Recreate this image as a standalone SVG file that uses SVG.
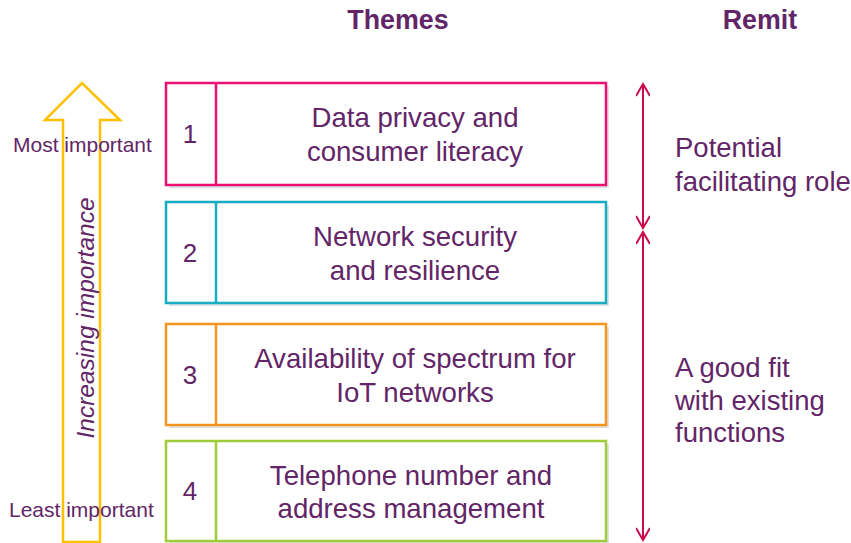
<svg xmlns="http://www.w3.org/2000/svg" width="851" height="543" viewBox="0 0 851 543">
<defs>
<marker id="chev" viewBox="0 0 16 14" refX="14" refY="7" markerWidth="16" markerHeight="14" markerUnits="userSpaceOnUse" orient="auto-start-reverse">
<path d="M2,0 L14,7 L2,14" fill="none" stroke="#cc0a4d" stroke-width="2"/>
</marker>
</defs>
<style>
text{font-family:"Liberation Sans",Arial,sans-serif;fill:#622567}
.hdr{font-size:26.8px;font-weight:bold;text-anchor:middle}
.box{fill:#fff;stroke-width:2.5}
.shadow{fill:#e2e2e2}
.num{font-size:26px;text-anchor:middle}
.lbl{font-size:27.6px;text-anchor:middle}
.side{font-size:21px}
.remit{font-size:27.5px}
.conn{stroke:#cc0a4d;stroke-width:2;fill:none}
</style>
<rect width="851" height="543" fill="#fff"/>
<text class="hdr" x="398" y="29">Themes</text>
<text class="hdr" x="760" y="29">Remit</text>

<g id="importance-arrow">
<polygon points="63,542 63,120 45,120 82,83 120,120 100,120 100,542" fill="#fff" stroke="#ffc000" stroke-width="2.5" stroke-linejoin="miter"/>
<text x="87" y="318" transform="rotate(-90 87 318)" font-size="24.5" font-style="italic" text-anchor="middle" dy="7">Increasing importance</text>
<text class="side" x="13" y="152">Most important</text>
<text class="side" x="9" y="517">Least important</text>
</g>

<g id="theme1">
<rect class="shadow" x="169" y="86" width="440" height="102"/>
<rect class="box" x="166" y="83" width="440" height="102" stroke="#ea0f72"/>
<line x1="216" y1="83" x2="216" y2="185" stroke="#ea0f72" stroke-width="2.5"/>
<text class="num" x="190" y="143">1</text>
<text class="lbl" x="415" y="127">Data privacy and</text>
<text class="lbl" x="415" y="161">consumer literacy</text>
</g>

<g id="theme2">
<rect class="shadow" x="169" y="205" width="440" height="101"/>
<rect class="box" x="166" y="202" width="440" height="101" stroke="#17adc1"/>
<line x1="216" y1="202" x2="216" y2="303" stroke="#17adc1" stroke-width="2.5"/>
<text class="num" x="190" y="262">2</text>
<text class="lbl" x="415" y="246">Network security</text>
<text class="lbl" x="415" y="280">and resilience</text>
</g>

<g id="theme3">
<rect class="shadow" x="169" y="327" width="440" height="101"/>
<rect class="box" x="166" y="324" width="440" height="101" stroke="#f7941d"/>
<line x1="216" y1="324" x2="216" y2="425" stroke="#f7941d" stroke-width="2.5"/>
<text class="num" x="190" y="384">3</text>
<text class="lbl" x="415" y="368">Availability of spectrum for</text>
<text class="lbl" x="415" y="402">IoT networks</text>
</g>

<g id="theme4">
<rect class="shadow" x="169" y="444" width="440" height="100"/>
<rect class="box" x="166" y="441" width="440" height="100" stroke="#9fcc3b"/>
<line x1="216" y1="441" x2="216" y2="541" stroke="#9fcc3b" stroke-width="2.5"/>
<text class="num" x="190" y="500">4</text>
<text class="lbl" x="411" y="485">Telephone number and</text>
<text class="lbl" x="411" y="518">address management</text>
</g>

<g id="connectors">
<line class="conn" x1="643" y1="84" x2="643" y2="228" marker-start="url(#chev)" marker-end="url(#chev)"/>
<line class="conn" x1="643" y1="232" x2="643" y2="540" marker-start="url(#chev)" marker-end="url(#chev)"/>
</g>

<g id="remit-facilitating">
<text class="remit" x="675" y="157">Potential</text>
<text class="remit" x="675" y="191">facilitating role</text>
</g>
<g id="remit-goodfit">
<text class="remit" x="675" y="377">A good fit</text>
<text class="remit" x="675" y="410">with existing</text>
<text class="remit" x="675" y="442">functions</text>
</g>
</svg>
